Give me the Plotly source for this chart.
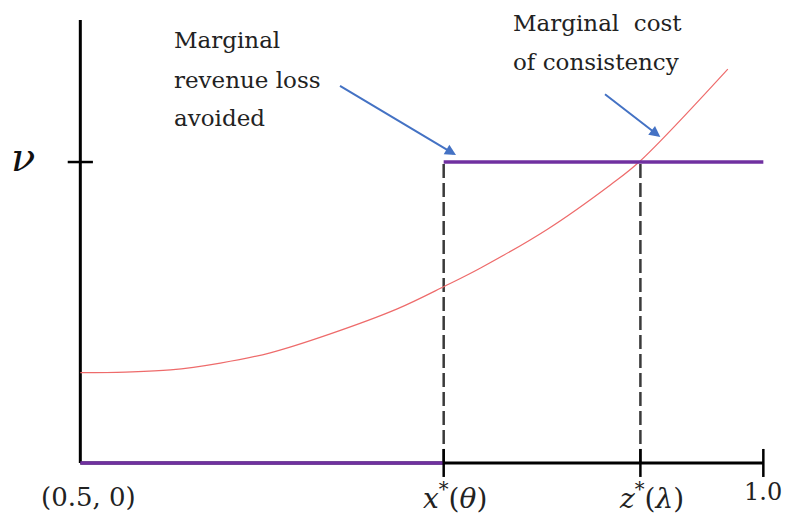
import plotly.graph_objects as go

# Marginal cost of consistency (red curve), sampled along the share axis
share = [0.5, 0.533, 0.566, 0.6025, 0.639, 0.683, 0.732, 0.767, 0.793, 0.842, 0.888, 0.909, 0.974]
cost = [0.300, 0.302, 0.309, 0.332, 0.366, 0.429, 0.512, 0.588, 0.648, 0.777, 0.924, 1.0, 1.309]

# Key positions on the axes
x_min, x_max = 0.5, 1.0
x_star, z_star = 0.766, 0.91
nu = 1.0
y_top = 1.472

tick_positions = [x_star, z_star, x_max]
tick_labels = ["<i>x</i><sup>*</sup>(<i>θ</i>)", "<i>z</i><sup>*</sup>(<i>λ</i>)", "1.0"]
tick_label_shift = [11, 11, 0]
origin_label = "(0.5, 0)"
nu_label = "<i>ν</i>"

# callout text lines with their vertical positions (in y units)
revenue_lines = ["Marginal", "revenue loss", "avoided"]
revenue_line_y = [1.405, 1.272, 1.146]
cost_lines = ["Marginal  cost", "of consistency"]
cost_line_y = [1.462, 1.332]

PURPLE = "#7030A0"
RED = "#EE6B6B"
BLUE = "#4472C4"
DASH = "#3A3A3A"
FONT = "DejaVu Serif"

fig = go.Figure()

# dashed drop lines at x*(θ) and z*(λ)
for xv in (x_star, z_star):
    fig.add_trace(go.Scatter(x=[xv, xv], y=[0, nu], mode="lines",
                             line=dict(color=DASH, width=2.5, dash="14px,5px")))

# axes
fig.add_trace(go.Scatter(x=[x_min, x_max], y=[0, 0], mode="lines",
                         line=dict(color="black", width=3)))
fig.add_trace(go.Scatter(x=[x_min, x_min], y=[0, y_top], mode="lines",
                         line=dict(color="black", width=3)))

# marginal cost curve
fig.add_trace(go.Scatter(x=share, y=cost, mode="lines",
                         line=dict(color=RED, width=1.2, shape="spline", smoothing=1.0)))

# marginal revenue loss avoided (step)
fig.add_trace(go.Scatter(x=[x_min, x_star], y=[0, 0], mode="lines",
                         line=dict(color=PURPLE, width=3.5)))
fig.add_trace(go.Scatter(x=[x_star, x_max], y=[nu, nu], mode="lines",
                         line=dict(color=PURPLE, width=3.5)))

# tick marks crossing the axes
fig.add_trace(go.Scatter(x=tick_positions, y=[0] * len(tick_positions), mode="markers",
                         marker=dict(symbol="line-ns", size=20,
                                     line=dict(color="black", width=2.5)),
                         cliponaxis=False))
fig.add_trace(go.Scatter(x=[x_min], y=[nu], mode="markers",
                         marker=dict(symbol="line-ew", size=18,
                                     line=dict(color="black", width=2.5)),
                         cliponaxis=False))

annotations = []
for xv, lab, sh in zip(tick_positions, tick_labels, tick_label_shift):
    is_end = lab == "1.0"
    annotations.append(dict(x=xv, y=0, xref="x", yref="y", text=lab, showarrow=False,
                            xshift=sh, yshift=-29 if is_end else -34,
                            font=dict(family=FONT, size=24 if is_end else 28,
                                      color="#222222")))
annotations.append(dict(x=x_min, y=0, xref="x", yref="y", text=origin_label,
                        showarrow=False, xshift=8, yshift=-34,
                        font=dict(family=FONT, size=26, color="#222222")))
annotations.append(dict(x=x_min, y=nu, xref="x", yref="y", text=nu_label,
                        showarrow=False, xshift=-57, yshift=5,
                        font=dict(family=FONT, size=40, color="#111111")))

# callout texts, one annotation per line
for txt, yv in zip(revenue_lines, revenue_line_y):
    annotations.append(dict(x=0.5674, y=yv, xref="x", yref="y", text=txt,
                            showarrow=False, xanchor="left", yanchor="middle",
                            font=dict(family=FONT, size=23, color="#222222")))
for txt, yv in zip(cost_lines, cost_line_y):
    annotations.append(dict(x=0.8155, y=yv, xref="x", yref="y", text=txt,
                            showarrow=False, xanchor="left", yanchor="middle",
                            font=dict(family=FONT, size=23, color="#222222")))

# callout arrows
annotations.append(dict(x=0.775, y=1.023, ax=0.689, ay=1.256, xref="x", yref="y",
                        axref="x", ayref="y", text="", showarrow=True,
                        arrowhead=2, arrowsize=1.1, arrowwidth=2, arrowcolor=BLUE))
annotations.append(dict(x=0.9246, y=1.083, ax=0.883, ay=1.229, xref="x", yref="y",
                        axref="x", ayref="y", text="", showarrow=True,
                        arrowhead=2, arrowsize=1.1, arrowwidth=2, arrowcolor=BLUE))

fig.update_layout(
    width=786, height=523,
    margin=dict(l=53, r=9, t=20, b=45, autoexpand=False),
    paper_bgcolor="white", plot_bgcolor="white",
    showlegend=False,
    xaxis=dict(range=[0.48, 1.01], visible=False, fixedrange=True),
    yaxis=dict(range=[-0.05, y_top], visible=False, fixedrange=True),
    annotations=annotations,
)

fig.write_html("out.html")
